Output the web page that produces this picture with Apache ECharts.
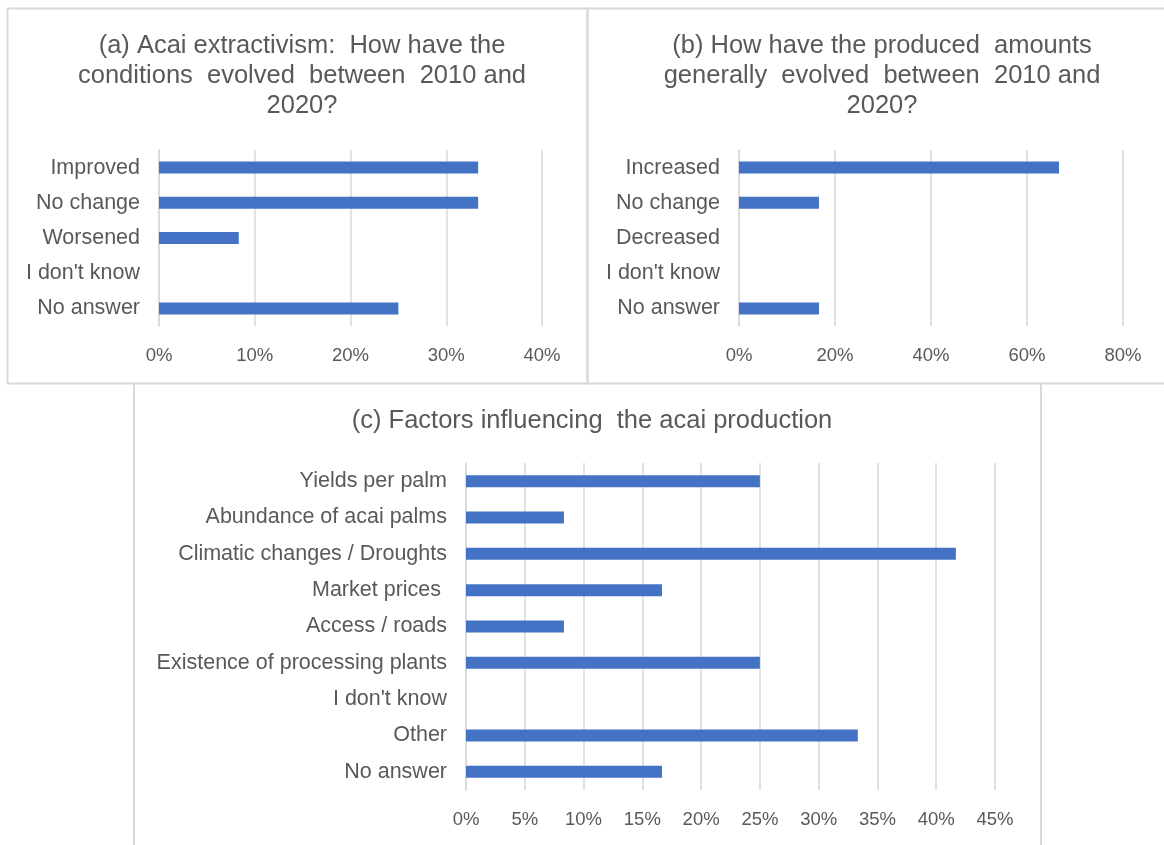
<!DOCTYPE html>
<html>
<head>
<meta charset="utf-8">
<script src="https://cdn.jsdelivr.net/npm/echarts@6/dist/echarts.min.js"></script>
<style>
  html, body { margin: 0; padding: 0; background: #fff; }
  #chart { width: 1164px; height: 845px; }
</style>
</head>
<body>
<div id="chart"></div>
<script>
// Survey answers (share of respondents, %)
const conditionCats = ['Improved', 'No change', 'Worsened', "I don't know", 'No answer'];
const conditionVals = [33.33, 33.33, 8.33, 0, 25];

const amountCats = ['Increased', 'No change', 'Decreased', "I don't know", 'No answer'];
const amountVals = [66.67, 16.67, 0, 0, 16.67];

const factorCats = ['Yields per palm', 'Abundance of acai palms', 'Climatic changes / Droughts',
  'Market prices ', 'Access / roads', 'Existence of processing plants', "I don't know", 'Other', 'No answer'];
const factorVals = [25, 8.33, 41.67, 16.67, 8.33, 25, 0, 33.33, 16.67];

const titleA = '(a) Acai extractivism:  How have the\nconditions  evolved  between  2010 and\n2020?';
const titleB = '(b) How have the produced  amounts\ngenerally  evolved  between  2010 and\n2020?';
const titleC = '(c) Factors influencing  the acai production';

const FONT = '"Liberation Sans", Arial, sans-serif';
const TEXT = '#595959';
const LINE = '#d9d9d9';
const BAR = '#4472C4';

function xAxis(gridIndex, max, interval) {
  return {
    type: 'value', gridIndex, min: 0, max, interval,
    axisLine: { show: false }, axisTick: { show: false },
    splitLine: { show: true, lineStyle: { color: LINE, width: 1.5 } },
    axisLabel: { color: TEXT, fontFamily: FONT, fontSize: 18.5, margin: 20, formatter: v => v + '%' }
  };
}
function yAxis(gridIndex, data) {
  return {
    type: 'category', gridIndex, data, inverse: true,
    axisLine: { show: true, lineStyle: { color: LINE, width: 1.5 } },
    axisTick: { show: false },
    axisLabel: { color: TEXT, fontFamily: FONT, fontSize: 21.5, margin: 19 }
  };
}
function barSeries(idx, data) {
  return {
    type: 'bar', xAxisIndex: idx, yAxisIndex: idx, data, barWidth: 12,
    itemStyle: { color: BAR }, silent: true
  };
}
const titleStyle = { color: TEXT, fontFamily: FONT, fontSize: 25.5, fontWeight: 'normal', lineHeight: 30 };

const option = {
  animation: false,
  backgroundColor: '#fff',
  title: [
    { text: titleA, left: 297, top: 26, textAlign: 'center', textStyle: titleStyle },
    { text: titleB, left: 877, top: 26, textAlign: 'center', textStyle: titleStyle },
    { text: titleC, left: 587, top: 401, textAlign: 'center', textStyle: titleStyle }
  ],
  grid: [
    { left: 159, right: 622, top: 150, height: 176 },
    { left: 739, right: 41, top: 150, height: 176 },
    { left: 466, right: 169, top: 463, height: 327 }
  ],
  xAxis: [xAxis(0, 40, 10), xAxis(1, 80, 20), xAxis(2, 45, 5)],
  yAxis: [yAxis(0, conditionCats), yAxis(1, amountCats), yAxis(2, factorCats)],
  series: [barSeries(0, conditionVals), barSeries(1, amountVals), barSeries(2, factorVals)],
  graphic: [
    // panel frames
    { type: 'rect', shape: { x: 7.5, y: 8.5, width: 580, height: 375 }, style: { fill: 'none', stroke: LINE, lineWidth: 2 } },
    { type: 'rect', shape: { x: 587.5, y: 8.5, width: 590, height: 375 }, style: { fill: 'none', stroke: LINE, lineWidth: 2 } },
    { type: 'line', shape: { x1: 134, y1: 383, x2: 134, y2: 850 }, style: { stroke: LINE, lineWidth: 2 } },
    { type: 'line', shape: { x1: 1041, y1: 383, x2: 1041, y2: 850 }, style: { stroke: LINE, lineWidth: 2 } }
  ]
};

echarts.init(document.getElementById('chart')).setOption(option);
</script>
</body>
</html>
